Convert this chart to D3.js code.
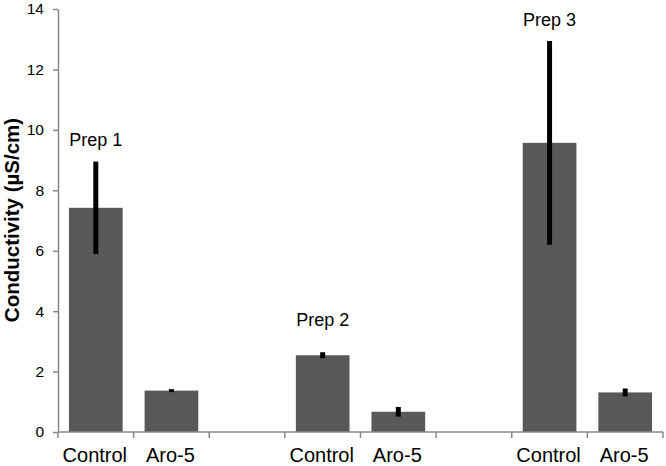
<!DOCTYPE html>
<html>
<head>
<meta charset="utf-8">
<script src="https://cdn.jsdelivr.net/npm/d3@7"></script>
<style>
  body { margin: 0; background: #fff; }
  text { font-family: "Liberation Sans", Arial, sans-serif; fill: #000; }
</style>
</head>
<body>
<svg width="666" height="466"></svg>
<script>
(function (d3) {
  'use strict'

  // 8 slots, blanks between the preps like the excel sheet
  const slots = ['c1', 'a1', 'gap1', 'c2', 'a2', 'gap2', 'c3', 'a3']
  const slotLabels = ['Control', 'Aro-5', '', 'Control', 'Aro-5', '', 'Control', 'Aro-5']
  const means = [7.42, 1.37, null, 2.54, 0.67, null, 9.57, 1.31]
  const errors = [1.53, 0.05, null, 0.1, 0.16, null, 3.37, 0.13]

  const preps = ['Prep 1', 'Prep 2', 'Prep 3']
  const prepSlots = ['c1', 'c2', 'c3']
  const prepLabelAt = [9.45, 3.5, 13.45]

  const yTicks = [0, 2, 4, 6, 8, 10, 12, 14]

  const svg = d3.select('svg')
  const left = 58, right = 663, top = 9, bottom = 432

  const x = d3.scaleBand().domain(slots).range([left, right]).paddingInner(0.29).paddingOuter(0.145)
  const xSlot = d3.scaleBand().domain(slots).range([left, right])
  const y = d3.scaleLinear().domain([0, 14]).range([bottom, top])

  const rows = slots.map(function (s, i) {
    return { slot: s, mean: means[i], err: errors[i] }
  }).filter(function (d) { return d.mean !== null })

  // bars
  svg.append('g').
    selectAll('rect').
    data(rows).
    enter().
    append('rect').
    attr('x', function (d) { return x(d.slot) }).
    attr('width', x.bandwidth()).
    attr('y', function (d) { return y(d.mean) }).
    attr('height', function (d) { return y(0) - y(d.mean) }).
    attr('fill', '#595959')

  // error bars, no caps
  svg.append('g').
    selectAll('line').
    data(rows).
    enter().
    append('line').
    attr('x1', function (d) { return x(d.slot) + x.bandwidth() / 2 }).
    attr('x2', function (d) { return x(d.slot) + x.bandwidth() / 2 }).
    attr('y1', function (d) { return y(d.mean - d.err) }).
    attr('y2', function (d) { return y(d.mean + d.err) }).
    attr('stroke', '#000').
    attr('stroke-width', 5)

  // y axis
  const yAxis = svg.append('g').
    attr('transform', 'translate(' + left + ',0)').
    call(d3.axisLeft(y).tickValues(yTicks).tickSize(5).tickPadding(9).tickSizeOuter(0))
  yAxis.selectAll('path, line').attr('stroke', '#888').attr('stroke-width', 1.5)
  yAxis.selectAll('text').attr('font-size', 15.5).attr('font-family', '"Liberation Sans", Arial, sans-serif')

  // x axis: ticks sit on slot boundaries
  const xg = svg.append('g')
  xg.append('line').
    attr('x1', left).attr('x2', right).
    attr('y1', bottom).attr('y2', bottom).
    attr('stroke', '#888').attr('stroke-width', 1.5)
  xg.selectAll('line.tick').
    data(slots.concat(['end'])).
    enter().
    append('line').
    attr('class', 'tick').
    attr('x1', function (d, i) { return left + i * xSlot.bandwidth() }).
    attr('x2', function (d, i) { return left + i * xSlot.bandwidth() }).
    attr('y1', bottom).attr('y2', bottom + 6).
    attr('stroke', '#888').attr('stroke-width', 1.5)
  xg.selectAll('text').
    data(slots).
    enter().
    append('text').
    attr('x', function (d) { return xSlot(d) + xSlot.bandwidth() / 2 - 1 }).
    attr('y', 462).
    attr('text-anchor', 'middle').
    attr('font-size', 20).
    text(function (d, i) { return slotLabels[i] })

  // prep annotations
  svg.append('g').
    selectAll('text').
    data(preps).
    enter().
    append('text').
    attr('x', function (d, i) { return x(prepSlots[i]) + x.bandwidth() / 2 }).
    attr('y', function (d, i) { return y(prepLabelAt[i]) }).
    attr('text-anchor', 'middle').
    attr('font-size', 18).
    text(function (d) { return d })

  // y title
  svg.append('text').
    attr('transform', 'translate(18.5,220) rotate(-90)').
    attr('text-anchor', 'middle').
    attr('font-size', 20.5).
    attr('font-weight', 'bold').
    text('Conductivity (µS/cm)')
}(d3))
</script>
</body>
</html>
